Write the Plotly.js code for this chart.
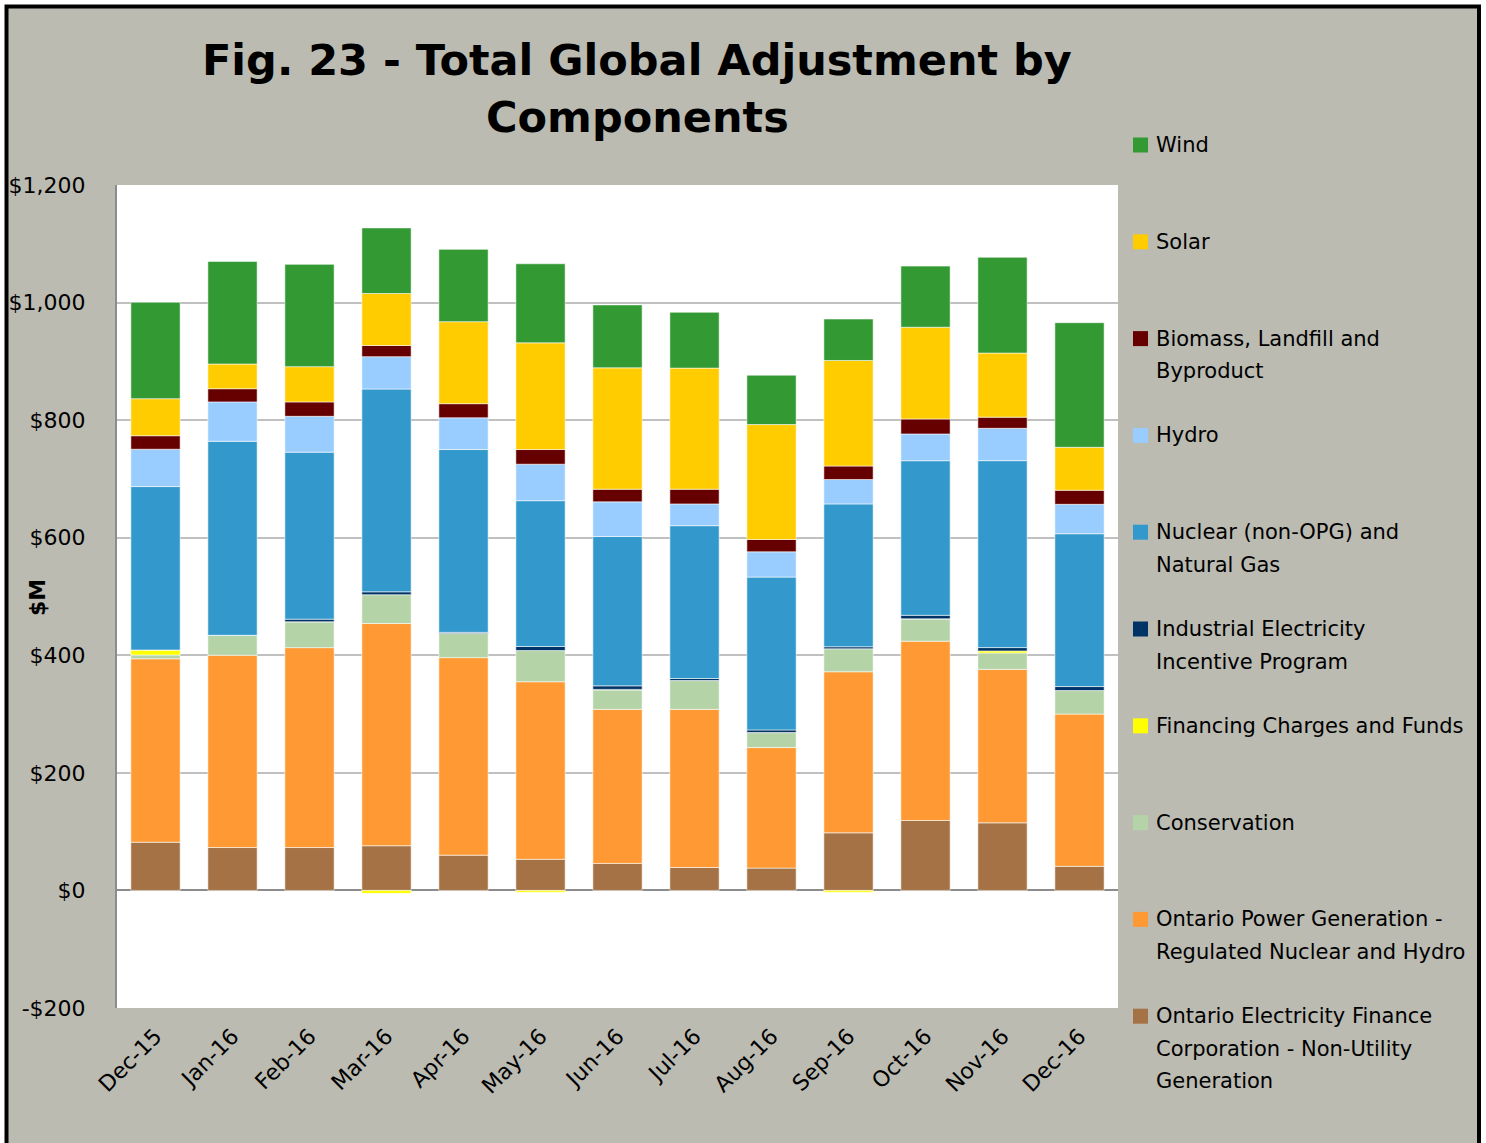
<!DOCTYPE html>
<html>
<head>
<meta charset="utf-8">
<script src="https://cdn.plot.ly/plotly-3.0.1.min.js"></script>
<style>
html,body{margin:0;padding:0;background:#ffffff;}
#chart{width:1486px;height:1143px;}
</style>
</head>
<body>
<div id="chart"></div>
<script>
// ---- Data (values in $M) ----
const months = ["Dec-15","Jan-16","Feb-16","Mar-16","Apr-16","May-16","Jun-16","Jul-16","Aug-16","Sep-16","Oct-16","Nov-16","Dec-16"];

const oefc         = [82, 73, 73, 76, 60, 53, 46, 39, 38, 98, 119, 115, 41];
const opg          = [312, 327, 340, 378, 336, 302, 262, 269, 205, 274, 305, 261, 259];
const conservation = [6.5, 34, 44, 49, 41, 53, 33, 49, 25.5, 39, 38, 28, 40];
const financing    = [8.5, 0, 0, -5, 0, -3, 1, 0, 0, -3, 0, 3.4, 0];
const ieip         = [0, 0, 4.5, 5, 2, 7, 6, 3.5, 4.5, 3.5, 6, 5.7, 6.8];
const nuclearGas   = [278, 330, 284, 345, 311, 248, 254, 260, 260, 243, 263, 318, 260];
const hydro        = [63.5, 67, 61, 55, 54, 62, 59, 37, 43, 41.5, 45.5, 55, 50];
const biomass      = [23, 22.5, 24.5, 19, 24, 25, 21.5, 25, 21, 23, 25.5, 19, 24];
const solar        = [63, 42, 60, 88.5, 139.5, 181.5, 206.5, 206, 195.5, 179.5, 156, 109, 73];
const wind         = [164, 174.5, 174, 111.5, 123, 134.5, 107, 95, 84, 70.5, 104, 163, 212];

// legend labels (line breaks as in the reference)
const labels = {
  wind: ["Wind"],
  solar: ["Solar"],
  biomass: ["Biomass, Landfill and", "Byproduct"],
  hydro: ["Hydro"],
  nuclear: ["Nuclear (non-OPG) and", "Natural Gas"],
  ieip: ["Industrial Electricity", "Incentive Program"],
  financing: ["Financing Charges and Funds"],
  conservation: ["Conservation"],
  opg: ["Ontario Power Generation -", "Regulated Nuclear and Hydro"],
  oefc: ["Ontario Electricity Finance", "Corporation - Non-Utility", "Generation"]
};

const titleLines = ["Fig. 23 - Total Global Adjustment by", "Components"];
const yTickVals = [-200, 0, 200, 400, 600, 800, 1000, 1200];
const yTickText = ["-$200", "$0", "$200", "$400", "$600", "$800", "$1,000", "$1,200"];

// ---- Series definitions (stack order bottom -> top) ----
const series = [
  {key:"oefc", y:oefc, color:"#A57245"},
  {key:"opg", y:opg, color:"#FF9933"},
  {key:"conservation", y:conservation, color:"#B4D4A8"},
  {key:"financing", y:financing, color:"#FFFF00"},
  {key:"ieip", y:ieip, color:"#003366"},
  {key:"nuclear", y:nuclearGas, color:"#3399CC"},
  {key:"hydro", y:hydro, color:"#99CCFF"},
  {key:"biomass", y:biomass, color:"#660000"},
  {key:"solar", y:solar, color:"#FFCC00"},
  {key:"wind", y:wind, color:"#339933"}
];

const traces = series.map(s => ({
  type: "bar",
  x: months,
  y: s.y,
  name: labels[s.key].join(" "),
  marker: {color: s.color, line: {color: "rgba(255,255,255,0.55)", width: 1}},
  showlegend: false,
  hovertemplate: "%{x}: $%{y}M<extra>" + labels[s.key].join(" ") + "</extra>"
}));

// ---- geometry helpers (pixel -> paper) ----
const W = 1486, H = 1143;
const mL = 117, mR = 368, mT = 185, mB = 135;
const pw = W - mL - mR, ph = H - mT - mB;
const px = x => (x - mL) / pw;
const py = y => (H - mB - y) / ph;

const baseFont = "DejaVu Sans, Verdana, sans-serif";

const shapes = [
  // gray chart-area frame with black border
  {type:"rect", xref:"paper", yref:"paper", x0:px(6.5), x1:px(1479), y0:py(1160), y1:py(6.5),
   fillcolor:"#BBBBB2", line:{color:"#000000", width:4}, layer:"below"},
  // white plot area
  {type:"rect", xref:"paper", yref:"paper", x0:0, x1:1, y0:0, y1:1,
   fillcolor:"#FFFFFF", line:{width:0}, layer:"below"}
];
const annotations = [
  {xref:"paper", yref:"paper", x:px(37), y:py(598), text:"<b>$M</b>", textangle:-90,
   showarrow:false, font:{family:baseFont, size:22, color:"#000"}, xanchor:"center", yanchor:"middle"}
];

// title, one annotation per line
const titleY = [60, 117];
titleLines.forEach((t, i) => {
  annotations.push({xref:"paper", yref:"paper", x:px(637), y:py(titleY[i]),
    text:"<b>" + t + "</b>", showarrow:false, xanchor:"center", yanchor:"middle",
    font:{family:baseFont, size:43, color:"#000"}});
});

// ---- manual legend (top to bottom: wind ... oefc) ----
const legendOrder = series.slice().reverse();
const legendTop = 145, legendStep = 96.8, lineH = 32.5;
legendOrder.forEach((s, i) => {
  const cy = legendTop + i * legendStep;
  shapes.push({type:"rect", xref:"paper", yref:"paper",
    x0:px(1133), x1:px(1148), y0:py(cy + 7.5), y1:py(cy - 7.5),
    fillcolor:s.color, line:{width:0}});
  labels[s.key].forEach((ln, j) => {
    annotations.push({xref:"paper", yref:"paper", x:px(1154), y:py(cy + j * lineH),
      text:ln, showarrow:false, xanchor:"left", yanchor:"middle",
      font:{family:baseFont, size:21, color:"#000"}});
  });
});

const layout = {
  width: W, height: H,
  margin: {l:mL, r:mR, t:mT, b:mB, pad:0},
  paper_bgcolor: "#FFFFFF",
  plot_bgcolor: "rgba(0,0,0,0)",
  barmode: "relative",
  bargap: 0.36,
  showlegend: false,
  xaxis: {
    type: "category",
    tickangle: -45,
    tickfont: {family: baseFont, size: 22, color: "#000"},
    showgrid: false,
    showline: false,
    ticks: "",
    zeroline: false,
    ticklabelstandoff: 10,
    automargin: false
  },
  yaxis: {
    range: [-200, 1200],
    tickvals: yTickVals,
    ticktext: yTickText,
    tickfont: {family: baseFont, size: 22, color: "#000"},
    showgrid: true,
    gridcolor: "#C0C0C0",
    gridwidth: 2,
    zeroline: true,
    zerolinecolor: "#8C8C8C",
    zerolinewidth: 2,
    showline: true,
    linecolor: "#8C8C8C",
    linewidth: 2,
    ticks: "",
    ticklabelstandoff: 25,
    automargin: false,
    fixedrange: true
  },
  shapes: shapes,
  annotations: annotations
};

Plotly.newPlot("chart", traces, layout, {displayModeBar: false, staticPlot: true});
</script>
</body>
</html>
